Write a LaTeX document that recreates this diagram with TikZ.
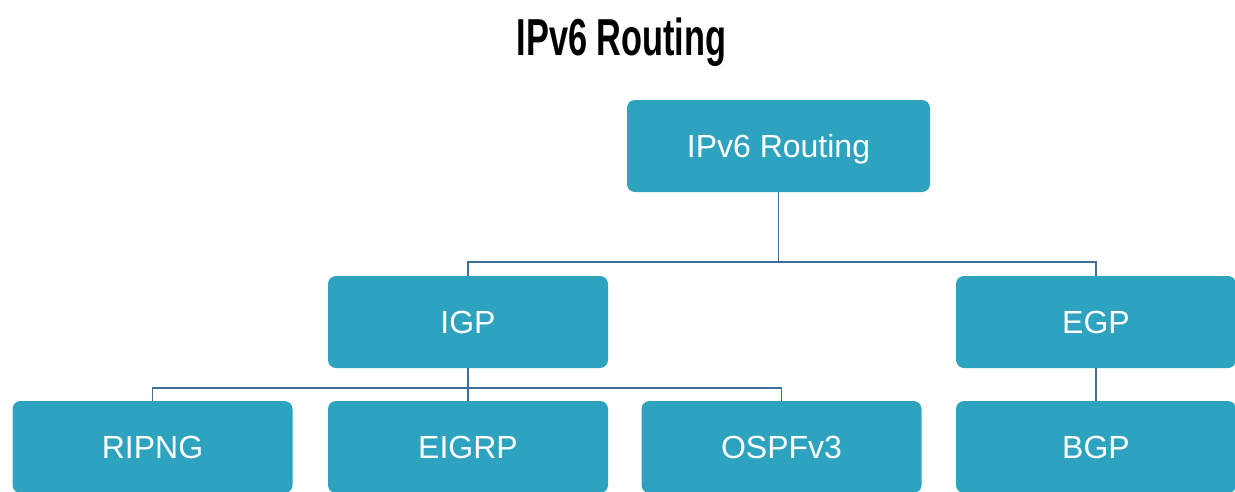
\documentclass[tikz,border=0pt]{standalone}
\usepackage{fontspec}
\setmainfont{Liberation Sans}
\newfontfamily\titlefont[FakeStretch=0.66]{Liberation Sans}
\definecolor{boxfill}{HTML}{2EA3BF}
\definecolor{linkblue}{HTML}{3D6F9C}
\begin{document}
\begin{tikzpicture}[x=1pt,y=-1pt,
  box/.style={rectangle, rounded corners=8pt, fill=boxfill, draw=none,
    minimum width=280pt, minimum height=92pt, inner sep=0pt,
    text=white, font=\fontsize{32}{36}\selectfont, text height=23pt, text depth=0pt},
  link/.style={draw=linkblue, line width=1.5pt}]
\useasboundingbox (0,0) rectangle (1235,491);
\fill[white] (0,0) rectangle (1235,491);
\node[anchor=base, font=\titlefont\bfseries\fontsize{52}{56}\selectfont] (title) at (621.5,55) {IPv6 Routing};
\node[box, minimum width=303pt] (root) at (778.5,146) {IPv6 Routing};
\node[box] (igp) at (468,322) {IGP};
\node[box] (egp) at (1096,322) {EGP};
\node[box] (ripng) at (152.5,447) {RIPNG};
\node[box] (eigrp) at (468,447) {EIGRP};
\node[box] (ospf) at (781.5,447) {OSPFv3};
\node[box] (bgp) at (1096,447) {BGP};
\coordinate (j1) at (778.5,262);
\coordinate (j2) at (468,388);
\draw[link] (root.south) -- (j1);
\draw[link] (igp.north) |- (j1) -| (egp.north);
\draw[link] (igp.south) -- (eigrp.north);
\draw[link] (ripng.north) |- (j2) -| (ospf.north);
\draw[link] (egp.south) -- (bgp.north);
\end{tikzpicture}
\end{document}
